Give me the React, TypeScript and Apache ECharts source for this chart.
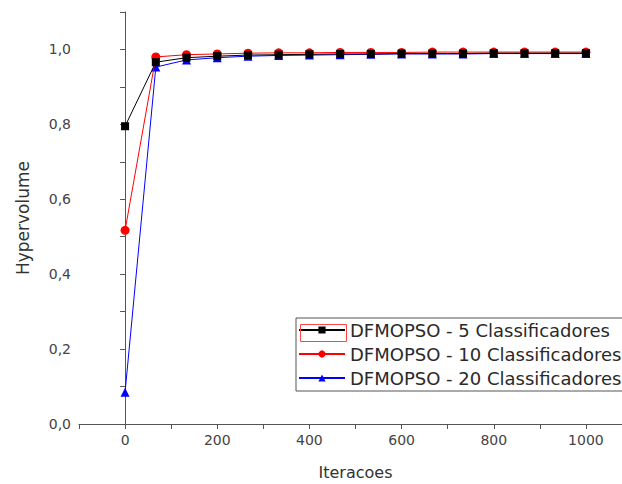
import React, { useEffect, useRef } from "react";
import * as echarts from "echarts";

const iterations = [0, 66.7, 133.3, 200, 266.7, 333.3, 400, 466.7, 533.3, 600, 666.7, 733.3, 800, 866.7, 933.3, 1000];
const seriesNames = ["DFMOPSO - 5 Classificadores", "DFMOPSO - 10 Classificadores", "DFMOPSO - 20 Classificadores"];
const hv5 = [0.795, 0.966, 0.978, 0.982, 0.985, 0.986, 0.987, 0.988, 0.988, 0.989, 0.989, 0.989, 0.99, 0.99, 0.99, 0.99];
const hv10 = [0.517, 0.98, 0.986, 0.988, 0.99, 0.991, 0.991, 0.992, 0.992, 0.992, 0.993, 0.993, 0.993, 0.993, 0.993, 0.993];
const hv20 = [0.085, 0.953, 0.972, 0.978, 0.982, 0.984, 0.985, 0.986, 0.987, 0.988, 0.988, 0.988, 0.989, 0.989, 0.989, 0.989];

const colors = ["#000000", "#ff0000", "#0000ff"];
const symbols = ["rect", "circle", "triangle"];

export default function App() {
  const ref = useRef<HTMLDivElement>(null);
  useEffect(() => {
    if (!ref.current) return;
    const chart = echarts.init(ref.current, undefined, { renderer: "svg" });
    const datasets = [hv5, hv10, hv20];
    const font = "'DejaVu Sans', sans-serif";
    chart.setOption({
      animation: false,
      backgroundColor: "#ffffff",
      grid: { left: 79, top: 12, height: 412, width: 553, containLabel: false, outerBoundsMode: "none" },
      legend: {
        orient: "vertical",
        left: 296,
        top: 318,
        itemWidth: 46,
        itemHeight: 9,
        itemGap: 6,
        padding: [3, 12, 4, 2],
        borderColor: "#555",
        borderWidth: 1,
        backgroundColor: "#ffffff",
        textStyle: { fontFamily: font, fontSize: 18, color: "#2a2a2a" },
        data: seriesNames,
      },
      xAxis: {
        type: "value",
        min: -100,
        max: 1100,
        interval: 100,
        name: "Iteracoes",
        nameLocation: "middle",
        nameGap: 40,
        nameTextStyle: { fontFamily: font, fontSize: 16, color: "#333" },
        axisLine: { lineStyle: { color: "#555", width: 1 } },
        axisTick: { length: 5, lineStyle: { color: "#555" } },
        splitLine: { show: false },
        axisLabel: {
          fontFamily: font,
          fontSize: 14,
          color: "#444",
          margin: 9,
          formatter: (v: number) => {
            const r = Math.round(v);
            return r >= 0 && r <= 1000 && r % 200 === 0 ? String(r) : "";
          },
        },
      },
      yAxis: {
        type: "value",
        min: 0,
        max: 1.1,
        interval: 0.1,
        name: "Hypervolume",
        nameLocation: "middle",
        nameGap: 48,
        nameRotate: 90,
        nameTextStyle: { fontFamily: font, fontSize: 17, color: "#333" },
        axisLine: { show: true, lineStyle: { color: "#555", width: 1 } },
        axisTick: { show: true, length: 5, lineStyle: { color: "#555" } },
        splitLine: { show: false },
        axisLabel: {
          fontFamily: font,
          fontSize: 14,
          color: "#444",
          margin: 8,
          formatter: (v: number) => {
            const r = Math.round(v * 10);
            return r % 2 === 0 && r <= 10 ? (r / 10).toFixed(1).replace(".", ",") : "";
          },
        },
      },
      series: seriesNames.map((name, i) => ({
        name,
        type: "line",
        data: iterations.map((x, j) => [x, datasets[i][j]]),
        symbol: symbols[i],
        symbolSize: i === 0 ? 8 : 9,
        showSymbol: true,
        lineStyle: { color: colors[i], width: 1 },
        itemStyle: { color: colors[i] },
        z: 3 - i,
      })),
      graphic: [
        {
          type: "rect",
          left: 298,
          top: 322,
          shape: { width: 46, height: 17 },
          style: { fill: "none", stroke: "#ff4444", lineWidth: 1 },
          z: 100,
        },
      ],
    });
    return () => chart.dispose();
  }, []);
  return <div ref={ref} style={{ width: 622, height: 484, position: "absolute", left: 0, top: 0 }} />;
}
